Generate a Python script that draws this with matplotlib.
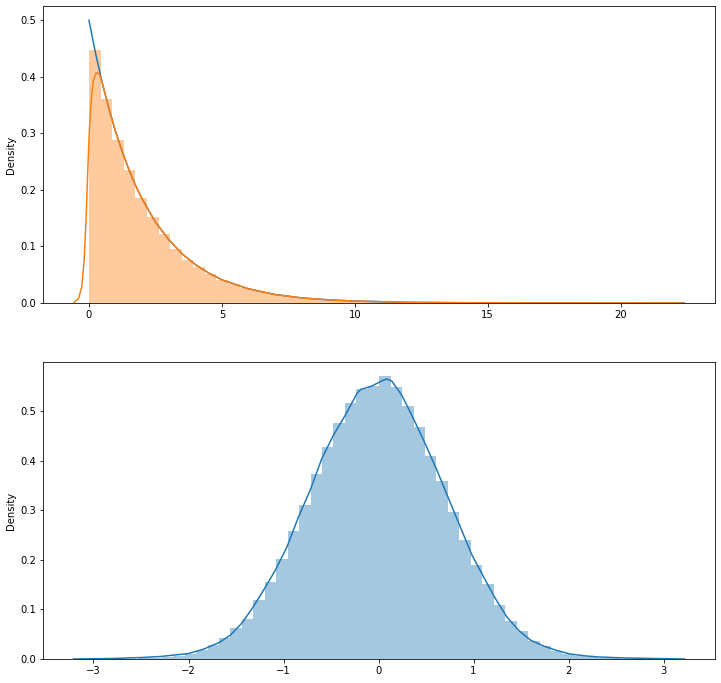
#%% Imports
import numpy as np
from matplotlib import pyplot as plt

#%% Data
# top panel : exponential sample (50 bins from 0 to 21.8)
exp_bin_range = (0.0, 21.8)
exp_hist = [0.447, 0.360, 0.288, 0.235, 0.186, 0.152, 0.122, 0.095, 0.076, 0.064,
            0.051, 0.041, 0.033, 0.027, 0.021, 0.017, 0.014, 0.011, 0.009, 0.007,
            0.006, 0.005, 0.004, 0.003, 0.0025, 0.002, 0.0016, 0.0013, 0.001, 0.0008,
            0.0007, 0.0005, 0.0004, 0.0003, 0.00025, 0.0002, 0.00015, 0.0001, 0.0001, 0.00008,
            0.00006, 0.00005, 0.00004, 0.00003, 0.00002, 0.00002, 0.00001, 0.00001, 0.0, 0.00001]

# theoretical pdf (blue)
pdf_x = [0, 0.25, 0.5, 0.75, 1.0, 1.25, 1.5, 1.75, 2.0, 2.5, 3.0, 3.5, 4.0, 4.5, 5.0,
         6.0, 7.0, 8.0, 9.0, 10.0, 12.0, 14.0, 16.0, 18.0, 20.0, 22.4]
pdf_y = [0.500, 0.441, 0.389, 0.344, 0.303, 0.268, 0.236, 0.208, 0.184, 0.143, 0.112,
         0.087, 0.068, 0.053, 0.041, 0.025, 0.015, 0.009, 0.0056, 0.0034, 0.0012,
         0.0005, 0.0002, 0.0001, 0.00005, 0.0]

# kde of exponential sample (orange)
exp_kde_x = [-0.58, -0.39, -0.27, -0.18, -0.105, -0.04, 0.02, 0.11, 0.17, 0.27, 0.39,
             0.54, 0.75, 1.0, 1.25, 1.5, 1.75, 2.0, 2.5, 3.0, 3.5, 4.0, 4.5, 5.0, 6.0,
             7.0, 8.0, 9.0, 10.0, 12.0, 14.0, 16.0, 18.0, 20.0, 22.4]
exp_kde_y = [0.0, 0.008, 0.029, 0.076, 0.152, 0.241, 0.311, 0.373, 0.394, 0.407, 0.405,
             0.382, 0.343, 0.303, 0.268, 0.236, 0.208, 0.184, 0.143, 0.112, 0.087, 0.068,
             0.053, 0.041, 0.025, 0.015, 0.009, 0.0056, 0.0034, 0.0012, 0.0005, 0.0002,
             0.0001, 0.00005, 0.0]

# bottom panel : 50 bins from -3.005 to 3.02
norm_bin_range = (-3.005, 3.02)
norm_hist = [0.0001, 0.0002, 0.0005, 0.0008, 0.0015, 0.0025, 0.004, 0.007, 0.011, 0.018,
             0.028, 0.043, 0.062, 0.081, 0.120, 0.156, 0.202, 0.258, 0.310, 0.374,
             0.427, 0.476, 0.516, 0.546, 0.552, 0.571, 0.550, 0.510, 0.468, 0.409,
             0.359, 0.296, 0.240, 0.190, 0.151, 0.109, 0.077, 0.056, 0.037, 0.026,
             0.017, 0.011, 0.007, 0.004, 0.0025, 0.0015, 0.0008, 0.0005, 0.0002, 0.0001]

norm_kde_x = [-3.21, -2.8, -2.5, -2.3, -2.0, -1.84, -1.68, -1.56, -1.44, -1.33, -1.21,
              -1.087, -0.964, -0.842, -0.719, -0.596, -0.474, -0.35, -0.227, -0.19, -0.087,
              -0.05, 0.05, 0.088, 0.14, 0.246, 0.368, 0.474, 0.615, 0.737, 0.86, 0.983,
              1.105, 1.23, 1.35, 1.474, 1.6, 1.74, 1.88, 2.02, 2.19, 2.33, 2.6, 2.9, 3.22]
norm_kde_y = [0.0, 0.001, 0.003, 0.005, 0.011, 0.020, 0.033, 0.048, 0.072, 0.102, 0.139,
              0.179, 0.226, 0.287, 0.341, 0.405, 0.452, 0.492, 0.536, 0.544, 0.550,
              0.553, 0.563, 0.565, 0.561, 0.532, 0.485, 0.442, 0.381, 0.324, 0.267, 0.210,
              0.166, 0.122, 0.085, 0.058, 0.038, 0.026, 0.017, 0.010, 0.006, 0.004, 0.002,
              0.001, 0.0]

#%% Plot
W, H = 721, 683
fig = plt.figure(figsize=(W/72, H/72), dpi=72)
ax1 = fig.add_axes([43/W, 1-303/H, 672/W, 297/H])
ax2 = fig.add_axes([43/W, 1-659/H, 672/W, 297/H])

def draw_hist(ax, heights, rng, color):
    edges = np.linspace(rng[0], rng[1], len(heights)+1)
    ax.bar(edges[:-1], heights, width=np.diff(edges), align='edge',
           color=color, alpha=0.4, linewidth=0)

# top
ax1.plot(pdf_x, pdf_y, color='#1f77b4', lw=1.5)
draw_hist(ax1, exp_hist, exp_bin_range, '#ff7f0e')
ax1.plot(exp_kde_x, exp_kde_y, color='#ff7f0e', lw=1.5)

# bottom
draw_hist(ax2, norm_hist, norm_bin_range, '#1f77b4')
ax2.plot(norm_kde_x, norm_kde_y, color='#1f77b4', lw=1.5)

for ax in (ax1, ax2):
    ax.set_ylabel('Density')
    ax.set_ylim(bottom=0)

plt.savefig('out.png', dpi=72)
